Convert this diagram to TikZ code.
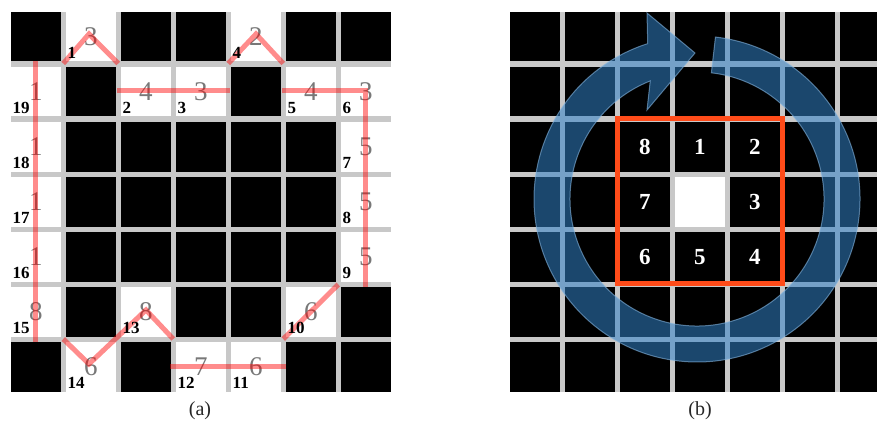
\documentclass[tikz,border=0pt]{standalone}
\usepackage{fontspec}
\setmainfont{Liberation Serif}
\usetikzlibrary{positioning}
\definecolor{gridgray}{RGB}{200,200,200}
\definecolor{chaingray}{RGB}{120,120,120}
\definecolor{boxred}{RGB}{255,75,25}
\definecolor{ringblue}{RGB}{50,130,200}

\begin{document}
\begin{tikzpicture}[
    x=1pt, y=-1pt,
    cellfree/.style={fill=white},
    vertexlbl/.style={font=\fontsize{17}{17}\selectfont\bfseries, inner sep=0pt, anchor=south west},
    codelbl/.style={font=\fontsize{27}{27}\selectfont, text=chaingray, inner sep=0pt},
    boxlbl/.style={font=\fontsize{23}{23}\selectfont\bfseries, text=white, inner sep=0pt},
    contour/.style={line width=5pt, red, opacity=0.45},
    ring/.style={fill=ringblue, fill opacity=0.55, draw=ringblue!60!white, draw opacity=0.6, line width=1pt},
    caption/.style={font=\fontsize{20}{20}\selectfont, text=black!85}
  ]
  \useasboundingbox (0,0) rectangle (877,433);

  % (a) pixel grid
  \fill[gridgray] (11,12) rectangle (390.5,391.5);
  \foreach \c in {0,...,6}
    \foreach \r in {0,...,6}
      \fill ({11+55*\c},{12+55*\r}) rectangle +(49.5,49.5);
  \foreach \c/\r in {1/0,4/0,0/1,2/1,3/1,5/1,6/1,0/2,6/2,0/3,6/3,0/4,6/4,0/5,2/5,5/5,1/6,3/6,4/6}
    \fill[cellfree] ({11+55*\c},{12+55*\r}) rectangle +(49.5,49.5);

  % chain codes
  \foreach \c/\r/\k [count=\i] in {1/0/3, 2/1/4, 3/1/3, 4/0/2, 5/1/4, 6/1/3, 6/2/5, 6/3/5, 6/4/5,
      5/5/6, 4/6/6, 3/6/7, 2/5/8, 1/6/6, 0/5/8, 0/4/1, 0/3/1, 0/2/1, 0/1/1}
    \node[codelbl] (code\i) at ({35.75+55*\c},{37+55*\r}) {\k};

  % contour points
  \coordinate (t1) at (63.25,63.5);
  \coordinate (t2) at (89,34);
  \coordinate (t3) at (118.25,63.5);
  \coordinate (h1) at (117,91);
  \coordinate (h2) at (229.5,91);
  \coordinate (t4) at (228.25,63.5);
  \coordinate (t5) at (256,34);
  \coordinate (t6) at (283.25,63.5);
  \coordinate (r1) at (282,91);
  \coordinate (r2) at (365.75,91);
  \coordinate (r3) at (365.75,287);
  \coordinate (d1) at (338.25,284.5);
  \coordinate (d2) at (283.25,339);
  \coordinate (b1) at (170,366.5);
  \coordinate (b2) at (285.5,366.5);
  \coordinate (z1) at (63.25,339);
  \coordinate (z2) at (89,364);
  \coordinate (z3) at (146,310);
  \coordinate (z4) at (173.25,339);
  \coordinate (l1) at (35.75,61);
  \coordinate (l2) at (35.75,342);

  \draw[contour] (t1) -- (t2) -- (t3);
  \draw[contour] (h1) -- (h2);
  \draw[contour] (t4) -- (t5) -- (t6);
  \draw[contour] (r1) -- (r2) -- (r3);
  \draw[contour] (d1) -- (d2);
  \draw[contour] (b1) -- (b2);
  \draw[contour] (z1) -- (z2) -- (z3) -- (z4);
  \draw[contour] (l1) -- (l2);

  % vertex numbers
  \foreach \c/\r [count=\i] in {1/0, 2/1, 3/1, 4/0, 5/1, 6/1, 6/2, 6/3, 6/4, 5/5,
      4/6, 3/6, 2/5, 1/6, 0/5, 0/4, 0/3, 0/2, 0/1}
    \node[vertexlbl] (v\i) at ({12.5+55*\c},{58.5+55*\r}) {\i};

  % (b) neighbourhood
  \begin{scope}
    \clip (510,0) rectangle (877,433);
    \fill[gridgray] (510,12) rectangle (900,391.5);
    \foreach \c in {0,...,6}
      \foreach \r in {0,...,6}
        \fill ({510+55*\c},{12+55*\r}) rectangle +(49.5,49.5);
    \fill[cellfree] (675,177) rectangle +(49.5,49.5);
  \end{scope}

  \foreach \c/\r/\k in {2/2/8, 3/2/1, 4/2/2, 2/3/7, 4/3/3, 2/4/6, 3/4/5, 4/4/4}
    \node[boxlbl] (n\k) at ({534.75+55*\c},{36.75+55*\r}) {\k};
  \draw[boxred, line width=5pt] (617.25,118.5) rectangle (782.25,283.5);

  \coordinate (ringc) at (697,199);
  \filldraw[ring] ([shift={(ringc)}]-83.5:163) arc[start angle=-83.5, end angle=252.4, radius=163]
    -- (647,13) -- (695,53) -- (647,110)
    -- ([shift={(ringc)}]248.4:127) arc[start angle=248.4, end angle=-83.5, radius=127] -- cycle;

  \node[caption] (capa) at (200,411) {(a)};
  \node[caption] (capb) at (700,411) {(b)};
\end{tikzpicture}
\end{document}
